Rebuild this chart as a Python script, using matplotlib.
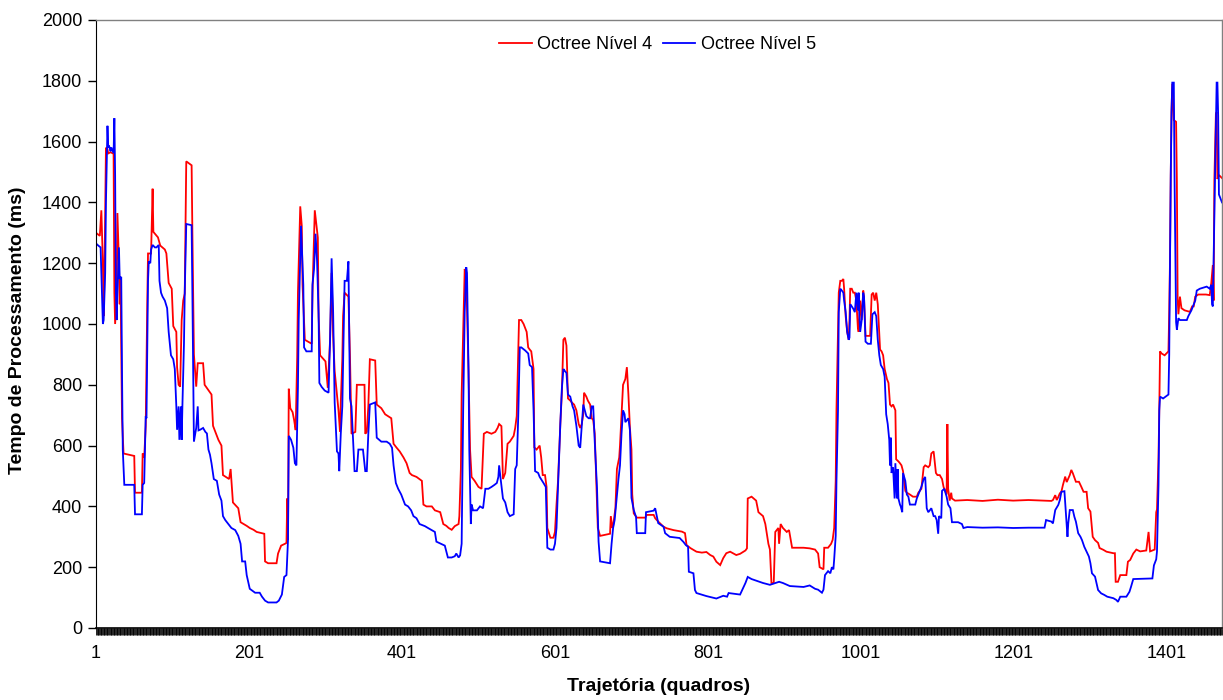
import matplotlib
matplotlib.use("Agg")
import matplotlib.pyplot as plt
from matplotlib.ticker import MultipleLocator

plt.rcParams['font.family'] = ['Liberation Sans', 'DejaVu Sans']

# Processing time per frame along the camera path (frame, ms)
n_frames = 1473
x_tick_labels = [1, 201, 401, 601, 801, 1001, 1201, 1401]
y_ticks = list(range(0, 2001, 200))
series_names = ['Octree Nível 4', 'Octree Nível 5']
series_colors = ['#FF0000', '#0000FF']

nivel4_points = [
    (1, 1300), (6, 1290), (8, 1374), (10, 1200), (11, 1026), (12, 1150), (14, 1580), (16, 1575),
    (17, 1561), (20, 1565), (24, 1560), (25, 1103), (26, 1000), (28, 1100), (29, 1365), (31, 1200),
    (32, 1065), (33, 1155), (35, 690), (37, 574), (51, 566), (52, 445), (61, 445), (62, 574),
    (64, 560), (66, 665), (68, 1065), (69, 1232), (73, 1232), (75, 1445), (76, 1303), (82, 1285),
    (85, 1258), (91, 1245), (93, 1232), (96, 1135), (100, 1116), (102, 993), (106, 974), (107, 858),
    (109, 800), (111, 794), (113, 1013), (115, 1077), (117, 1100), (119, 1535), (126, 1522), (127, 1300),
    (129, 900), (132, 794), (134, 871), (141, 871), (143, 800), (152, 768), (154, 665), (161, 619),
    (165, 600), (167, 503), (175, 490), (177, 523), (180, 413), (187, 394), (190, 348), (194, 342),
    (198, 336), (202, 329), (207, 323), (211, 316), (221, 310), (222, 219), (226, 213), (237, 213),
    (239, 245), (243, 271), (248, 277), (250, 280), (251, 426), (252, 290), (253, 787), (255, 723),
    (258, 710), (260, 684), (262, 651), (264, 890), (265, 1103), (268, 1387), (270, 1323), (271, 1129),
    (273, 1013), (274, 948), (283, 935), (284, 1103), (287, 1374), (291, 1284), (292, 1026), (294, 897),
    (301, 877), (304, 790), (307, 948), (309, 1168), (311, 960), (313, 845), (316, 768), (318, 716),
    (320, 645), (321, 742), (323, 884), (324, 1026), (326, 1103), (331, 1090), (333, 897), (335, 639),
    (340, 645), (342, 800), (352, 800), (353, 639), (355, 645), (357, 729), (359, 884), (366, 880),
    (368, 735), (374, 723), (379, 703), (387, 690), (390, 606), (394, 593), (398, 581), (403, 561),
    (407, 542), (411, 510), (414, 503), (420, 497), (427, 484), (429, 406), (433, 400), (440, 400),
    (444, 387), (451, 381), (455, 342), (459, 336), (462, 329), (466, 323), (470, 335), (475, 342),
    (476, 368), (478, 523), (479, 768), (481, 974), (483, 1181), (485, 1155), (488, 845), (490, 587),
    (492, 497), (496, 484), (501, 464), (505, 458), (508, 639), (512, 645), (518, 639), (523, 645),
    (526, 658), (528, 671), (531, 664), (533, 490), (536, 510), (539, 606), (542, 613), (547, 632),
    (549, 658), (551, 697), (552, 800), (554, 1013), (557, 1013), (560, 1000), (564, 974), (566, 923),
    (568, 916), (570, 910), (573, 852), (574, 594), (577, 587), (581, 600), (583, 561), (585, 503),
    (588, 503), (590, 464), (591, 329), (595, 297), (599, 297), (601, 316), (603, 406), (605, 484),
    (608, 671), (610, 774), (612, 948), (614, 955), (616, 929), (618, 755), (621, 748), (623, 742),
    (626, 735), (629, 716), (632, 671), (634, 658), (636, 671), (638, 703), (639, 774), (642, 761),
    (644, 748), (647, 735), (649, 690), (651, 684), (653, 639), (655, 484), (657, 329), (660, 303),
    (673, 310), (674, 368), (676, 329), (677, 335), (680, 394), (682, 523), (685, 561), (686, 600),
    (688, 703), (690, 800), (693, 819), (695, 858), (697, 768), (699, 658), (701, 587), (702, 440),
    (704, 377), (708, 363), (719, 363), (721, 372), (730, 372), (732, 361), (736, 350), (743, 333),
    (747, 328), (756, 322), (767, 317), (771, 312), (773, 273), (778, 263), (786, 251), (793, 248),
    (799, 250), (804, 240), (808, 235), (812, 218), (817, 207), (821, 230), (825, 246), (830, 251),
    (838, 240), (843, 244), (850, 255), (852, 262), (853, 426), (858, 432), (864, 419), (867, 381),
    (873, 368), (876, 342), (880, 277), (882, 258), (884, 148), (887, 148), (889, 316), (893, 329),
    (894, 277), (896, 342), (899, 329), (904, 316), (907, 322), (911, 264), (926, 264), (934, 262),
    (941, 258), (945, 245), (947, 200), (952, 193), (953, 264), (958, 264), (962, 277), (964, 290),
    (966, 329), (968, 484), (969, 716), (971, 974), (972, 1103), (974, 1142), (976, 1142), (978, 1148),
    (979, 1116), (981, 1026), (983, 974), (985, 948), (986, 1013), (987, 1116), (989, 1116), (991, 1103),
    (993, 1103), (995, 1077), (997, 987), (998, 974), (1000, 1077), (1002, 1013), (1004, 1110), (1005, 1090),
    (1007, 961), (1013, 961), (1015, 1097), (1017, 1103), (1019, 1077), (1021, 1103), (1023, 1065), (1026, 916),
    (1028, 910), (1030, 897), (1032, 852), (1035, 819), (1037, 806), (1039, 735), (1041, 729), (1043, 735),
    (1046, 716), (1047, 555), (1050, 548), (1052, 542), (1054, 535), (1056, 516), (1059, 451), (1061, 445),
    (1065, 439), (1069, 432), (1074, 432), (1076, 445), (1080, 458), (1083, 529), (1085, 535), (1089, 529),
    (1091, 535), (1093, 574), (1096, 581), (1099, 510), (1101, 503), (1104, 503), (1107, 490), (1109, 464),
    (1111, 451), (1113, 439), (1114, 671), (1115, 458), (1117, 419), (1119, 445), (1120, 426), (1124, 419),
    (1140, 421), (1160, 418), (1180, 422), (1200, 419), (1220, 421), (1240, 419), (1250, 418), (1252, 421),
    (1255, 437), (1257, 421), (1259, 431), (1261, 443), (1263, 448), (1265, 470), (1268, 498), (1270, 480),
    (1274, 503), (1276, 520), (1278, 509), (1282, 481), (1286, 481), (1289, 465), (1292, 448), (1296, 448),
    (1298, 394), (1301, 383), (1304, 300), (1307, 289), (1311, 280), (1313, 263), (1318, 257), (1322, 251),
    (1331, 246), (1333, 246), (1334, 152), (1337, 152), (1340, 174), (1348, 174), (1350, 218), (1353, 224),
    (1357, 245), (1361, 258), (1366, 252), (1374, 255), (1377, 316), (1379, 252), (1385, 258), (1387, 381),
    (1388, 390), (1390, 561), (1391, 716), (1392, 910), (1394, 903), (1398, 897), (1403, 910), (1404, 1039),
    (1405, 1206), (1406, 1490), (1407, 1697), (1408, 1790), (1410, 1671), (1413, 1665), (1414, 1471), (1415, 1084),
    (1416, 1032), (1418, 1090), (1420, 1052), (1424, 1045), (1431, 1040), (1434, 1058), (1436, 1058), (1438, 1090),
    (1442, 1097), (1452, 1097), (1457, 1095), (1459, 1135), (1461, 1194), (1462, 1077), (1463, 1471), (1465, 1690),
    (1466, 1697), (1467, 1477), (1469, 1490), (1473, 1480),
]

nivel5_points = [
    (1, 1265), (4, 1258), (7, 1252), (8, 1168), (10, 1000), (11, 1013), (13, 1168), (14, 1400),
    (16, 1652), (17, 1581), (18, 1587), (20, 1568), (21, 1581), (24, 1562), (25, 1677), (26, 1490),
    (27, 1103), (28, 1013), (29, 1103), (31, 1252), (32, 1148), (34, 1155), (35, 845), (36, 587),
    (38, 471), (51, 471), (52, 374), (61, 374), (62, 471), (64, 477), (66, 697), (67, 690),
    (69, 1142), (70, 1206), (72, 1200), (73, 1245), (75, 1260), (78, 1252), (80, 1252), (83, 1260),
    (84, 1142), (86, 1103), (88, 1090), (91, 1077), (94, 1052), (96, 974), (99, 897), (102, 884),
    (104, 852), (106, 729), (107, 652), (109, 729), (110, 619), (112, 729), (113, 619), (114, 735),
    (116, 935), (117, 1103), (119, 1329), (126, 1325), (127, 1103), (129, 613), (132, 658), (134, 729),
    (135, 650), (137, 652), (141, 658), (144, 645), (146, 640), (148, 587), (150, 570), (152, 542),
    (155, 490), (159, 484), (162, 439), (165, 419), (167, 368), (170, 355), (174, 342), (178, 329),
    (183, 322), (187, 303), (190, 277), (192, 219), (196, 219), (198, 174), (202, 129), (209, 116),
    (215, 116), (218, 103), (222, 90), (226, 84), (237, 84), (240, 90), (244, 110), (247, 168),
    (250, 174), (252, 290), (253, 632), (256, 619), (259, 593), (261, 542), (263, 535), (265, 794),
    (266, 1013), (269, 1323), (270, 1258), (272, 1129), (273, 923), (276, 910), (283, 910), (284, 1129),
    (286, 1180), (288, 1297), (290, 1206), (292, 1032), (293, 806), (296, 793), (300, 781), (305, 774),
    (307, 948), (309, 1216), (311, 1039), (313, 742), (316, 581), (318, 574), (319, 516), (321, 639),
    (323, 729), (326, 1142), (329, 1142), (331, 1206), (333, 755), (335, 729), (337, 626), (339, 516),
    (342, 516), (344, 587), (350, 587), (353, 516), (355, 516), (357, 639), (359, 735), (366, 742),
    (368, 626), (374, 613), (381, 613), (385, 606), (388, 593), (390, 535), (393, 477), (396, 458),
    (400, 439), (405, 406), (409, 400), (413, 387), (416, 368), (420, 361), (424, 342), (431, 335),
    (435, 329), (440, 322), (444, 316), (446, 284), (452, 277), (457, 271), (461, 232), (466, 232),
    (470, 236), (472, 245), (475, 232), (477, 239), (479, 277), (481, 716), (483, 1039), (485, 1187),
    (486, 1168), (488, 845), (489, 587), (491, 342), (492, 406), (494, 387), (499, 387), (503, 400),
    (507, 394), (510, 458), (514, 458), (518, 464), (522, 471), (525, 477), (527, 497), (528, 535),
    (530, 490), (533, 426), (536, 413), (539, 381), (542, 368), (547, 374), (549, 523), (551, 535),
    (553, 697), (555, 923), (557, 923), (562, 913), (566, 903), (568, 865), (571, 858), (573, 716),
    (575, 516), (579, 510), (581, 497), (586, 477), (589, 464), (591, 264), (595, 258), (599, 258),
    (601, 277), (603, 329), (605, 464), (608, 671), (610, 787), (612, 852), (614, 845), (616, 839),
    (618, 768), (621, 761), (624, 729), (626, 716), (629, 665), (632, 600), (634, 593), (636, 665),
    (638, 735), (640, 716), (642, 697), (645, 690), (647, 690), (649, 729), (651, 729), (653, 613),
    (656, 458), (658, 284), (660, 219), (673, 213), (675, 277), (677, 329), (679, 355), (684, 490),
    (686, 535), (688, 639), (690, 716), (692, 703), (693, 677), (697, 690), (699, 650), (701, 428),
    (704, 388), (707, 365), (708, 312), (719, 312), (720, 381), (730, 386), (732, 394), (734, 370),
    (736, 345), (743, 333), (745, 312), (751, 300), (764, 296), (769, 283), (772, 273), (775, 267),
    (776, 185), (782, 180), (784, 125), (786, 115), (799, 105), (812, 97), (821, 106), (826, 103),
    (828, 115), (843, 110), (850, 148), (853, 168), (858, 161), (873, 148), (882, 142), (889, 148),
    (894, 152), (899, 148), (908, 138), (926, 135), (934, 140), (941, 129), (945, 126), (950, 116),
    (952, 126), (954, 174), (958, 187), (961, 180), (963, 200), (965, 193), (966, 226), (968, 303),
    (969, 484), (971, 716), (972, 1039), (974, 1116), (976, 1110), (978, 1103), (979, 1077), (981, 1039),
    (983, 974), (985, 948), (986, 955), (987, 1065), (989, 1058), (991, 1050), (993, 1039), (995, 1103),
    (997, 1045), (998, 1103), (999, 1026), (1000, 974), (1002, 1013), (1004, 1103), (1005, 1090), (1007, 942),
    (1010, 935), (1014, 935), (1016, 1032), (1019, 1039), (1021, 1026), (1023, 948), (1025, 897), (1027, 865),
    (1030, 852), (1032, 826), (1034, 703), (1036, 671), (1038, 619), (1039, 535), (1040, 626), (1041, 510),
    (1043, 529), (1045, 426), (1046, 542), (1048, 426), (1049, 523), (1050, 426), (1052, 406), (1053, 400),
    (1055, 381), (1056, 510), (1059, 484), (1061, 439), (1063, 432), (1065, 406), (1072, 406), (1074, 426),
    (1076, 439), (1078, 451), (1080, 464), (1083, 490), (1085, 497), (1087, 394), (1089, 381), (1091, 387),
    (1093, 394), (1096, 368), (1098, 368), (1100, 355), (1102, 310), (1103, 368), (1106, 361), (1107, 451),
    (1110, 458), (1113, 432), (1115, 406), (1118, 394), (1120, 348), (1128, 348), (1133, 342), (1135, 329),
    (1140, 332), (1160, 330), (1180, 331), (1200, 329), (1220, 330), (1241, 330), (1243, 355), (1250, 350),
    (1252, 344), (1255, 388), (1259, 405), (1261, 421), (1263, 448), (1267, 450), (1269, 377), (1271, 300),
    (1272, 344), (1274, 388), (1278, 388), (1280, 366), (1282, 350), (1285, 312), (1288, 300), (1290, 289),
    (1293, 267), (1296, 251), (1299, 235), (1301, 213), (1303, 180), (1307, 169), (1309, 147), (1311, 125),
    (1315, 114), (1319, 109), (1323, 103), (1331, 98), (1335, 92), (1337, 86), (1340, 103), (1348, 103),
    (1352, 119), (1354, 135), (1357, 161), (1382, 163), (1384, 206), (1387, 226), (1388, 252), (1390, 471),
    (1391, 716), (1392, 761), (1396, 755), (1403, 768), (1404, 900), (1406, 1490), (1407, 1697), (1408, 1794),
    (1410, 1794), (1411, 1471), (1413, 1006), (1414, 981), (1416, 1019), (1418, 1013), (1427, 1013), (1429, 1026),
    (1433, 1045), (1435, 1058), (1438, 1077), (1440, 1110), (1444, 1116), (1453, 1123), (1457, 1116), (1459, 1129),
    (1460, 1065), (1461, 1058), (1463, 1361), (1465, 1650), (1466, 1794), (1467, 1794), (1468, 1684), (1469, 1426),
    (1471, 1413), (1473, 1400),
]

W, H = 1223, 700
fig = plt.figure(figsize=(W / 100, H / 100), dpi=100)
fig.patch.set_facecolor('white')
ax = fig.add_axes([96 / W, 72 / H, 1126 / W, 608 / H])

for pts, name, color in zip([nivel4_points, nivel5_points], series_names, series_colors):
    frames = [p[0] for p in pts]
    values = [p[1] for p in pts]
    ax.plot(frames, values, color=color, lw=1.3, label=name, solid_joinstyle='miter')

ax.set_xlim(1, n_frames)
ax.set_ylim(0, 2000)

ax.set_yticks(y_ticks)
ax.set_xticks(x_tick_labels)
ax.set_xticklabels([str(v) for v in x_tick_labels])
ax.xaxis.set_minor_locator(MultipleLocator(1))

ax.tick_params(axis='x', which='both', direction='out', length=5, width=0.6,
               color='black', labelsize=13, pad=7)
ax.tick_params(axis='y', which='major', direction='out', length=6, width=1,
               color='black', labelsize=13, pad=4)

for side in ('top', 'right'):
    ax.spines[side].set_color('#808080')
    ax.spines[side].set_linewidth(1.0)
ax.spines['left'].set_color('black')
ax.spines['bottom'].set_color('black')
ax.spines['bottom'].set_linewidth(1.2)

ax.set_ylabel('Tempo de Processamento (ms)', fontsize=14, fontweight='bold')
ax.yaxis.set_label_coords(-0.062, 0.49)
ax.set_xlabel('Trajetória (quadros)', fontsize=14, fontweight='bold')
ax.xaxis.set_label_coords(0.5, -0.082)

ax.legend(loc='center', bbox_to_anchor=(0.4987, 0.959), ncol=2, frameon=False,
          fontsize=13, handlelength=1.8, handletextpad=0.3, columnspacing=0.6)

fig.savefig('out.png', dpi=100, facecolor='white')
